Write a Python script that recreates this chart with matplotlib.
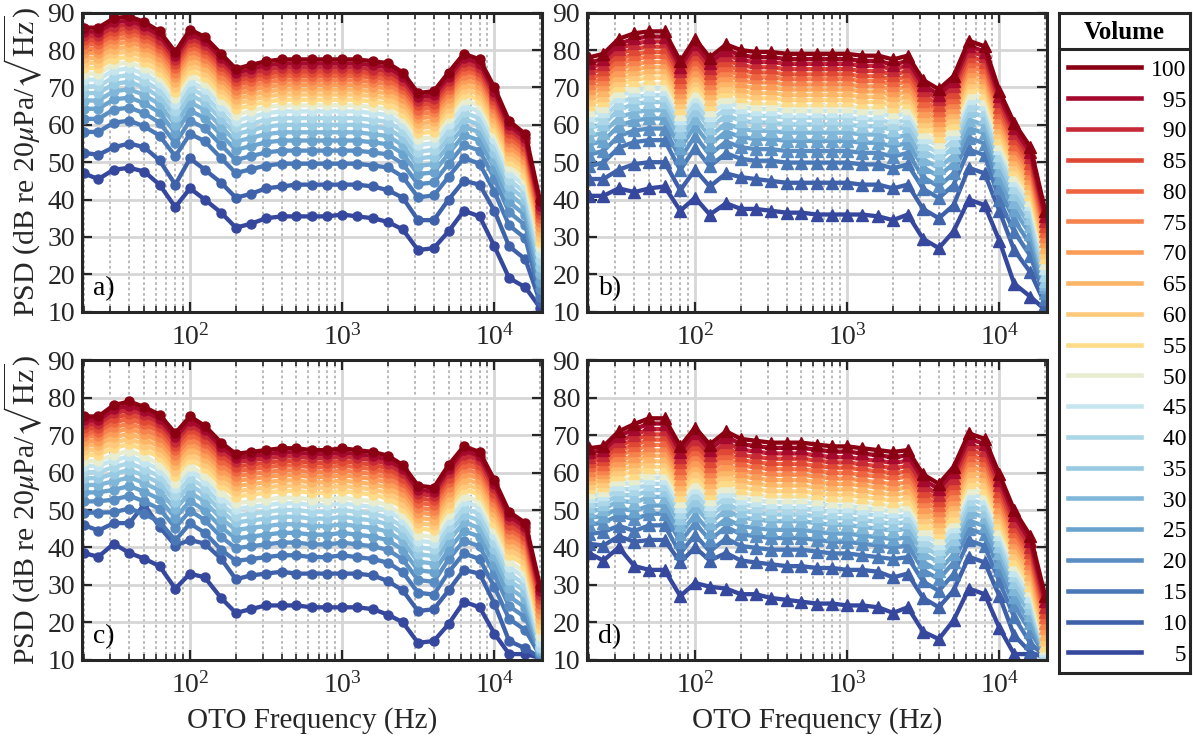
import matplotlib.pyplot as plt
from matplotlib.lines import Line2D
from matplotlib.ticker import NullFormatter

plt.rcParams['font.family'] = ['Liberation Serif', 'DejaVu Serif']
plt.rcParams['mathtext.fontset'] = 'stix'

# one-third octave band centres (Hz)
freq = [20, 25, 31.5, 40, 50, 63, 80, 100, 125, 160, 200, 250, 315, 400, 500, 630,
        800, 1000, 1250, 1600, 2000, 2500, 3150, 4000, 5000, 6300, 8000, 10000,
        12500, 16000, 20000]
volumes = [5, 10, 15, 20, 25, 30, 35, 40, 45, 50, 55, 60, 65, 70, 75, 80, 85, 90, 95, 100]

# PSD (dB), one row per volume (5 -> 100)
psd_a = [
    [47, 45.5, 48, 48.5, 47.5, 44, 38, 43, 40, 36.5, 32.5, 33.5, 35, 35.5, 35.5, 35.5, 35.5, 36, 35.5, 35, 34, 32, 26.5, 27, 31.5, 37, 35.5, 27.5, 19, 16.5, 11],
    [52.5, 52, 54, 55, 54, 50.5, 44, 51, 48, 44.5, 40.5, 41.5, 43, 43.5, 44, 44, 44, 44, 44, 43.5, 42.5, 40.5, 34.5, 34.5, 40, 45, 44, 37, 27.5, 24, 12.5],
    [58.1, 58.1, 60.6, 61.1, 59.6, 57.1, 51.6, 57.6, 55.6, 51.1, 47.1, 48.1, 49.1, 49.6, 49.6, 49.6, 49.6, 49.6, 49.6, 49.1, 48.6, 46.1, 40.6, 41.1, 46.1, 51.1, 49.6, 42.1, 33.1, 29.6, 14],
    [61.6, 61.6, 64.1, 64.6, 63.1, 60.6, 55.1, 61.1, 59.1, 54.6, 50.6, 51.6, 52.6, 53.1, 53.1, 53.1, 53.1, 53.1, 53.1, 52.6, 52.1, 49.6, 44.1, 44.6, 49.6, 54.6, 53.1, 45.6, 36.6, 33.1, 16],
    [64.3, 64.3, 66.8, 67.3, 65.8, 63.3, 57.8, 63.8, 61.8, 57.3, 53.3, 54.3, 55.3, 55.8, 55.8, 55.8, 55.8, 55.8, 55.8, 55.3, 54.8, 52.3, 46.8, 47.3, 52.3, 57.3, 55.8, 48.3, 39.3, 35.8, 18],
    [66.5, 66.5, 69, 69.5, 68, 65.5, 60, 66, 64, 59.5, 55.5, 56.5, 57.5, 58, 58, 58, 58, 58, 58, 57.5, 57, 54.5, 49, 49.5, 54.5, 59.5, 58, 50.5, 41.5, 38, 20],
    [68.5, 68.5, 71, 71.5, 70, 67.5, 62, 68, 66, 61.5, 57.5, 58.5, 59.5, 60, 60, 60, 60, 60, 60, 59.5, 59, 56.5, 51, 51.5, 56.5, 61.5, 60, 52.5, 43.5, 40, 22],
    [70.3, 70.3, 72.8, 73.3, 71.8, 69.3, 63.8, 69.8, 67.8, 63.3, 59.3, 60.3, 61.3, 61.8, 61.8, 61.8, 61.8, 61.8, 61.8, 61.3, 60.8, 58.3, 52.8, 53.3, 58.3, 63.3, 61.8, 54.3, 45.3, 41.8, 23.8],
    [72.1, 72.1, 74.6, 75.1, 73.6, 71.1, 65.6, 71.6, 69.6, 65.1, 61.1, 62.1, 63.1, 63.6, 63.6, 63.6, 63.6, 63.6, 63.6, 63.1, 62.6, 60.1, 54.6, 55.1, 60.1, 65.1, 63.6, 56.1, 47.1, 43.6, 25.6],
    [73.7, 73.7, 76.2, 76.7, 75.2, 72.7, 67.2, 73.2, 71.2, 66.7, 62.7, 63.7, 64.7, 65.2, 65.2, 65.2, 65.2, 65.2, 65.2, 64.7, 64.2, 61.7, 56.2, 56.7, 61.7, 66.7, 65.2, 57.7, 48.7, 45.2, 27.2],
    [75.2, 75.2, 77.7, 78.2, 76.7, 74.2, 68.7, 74.7, 72.7, 68.2, 64.2, 65.2, 66.2, 66.7, 66.7, 66.7, 66.7, 66.7, 66.7, 66.2, 65.7, 63.2, 57.7, 58.2, 63.2, 68.2, 66.7, 59.2, 50.2, 46.7, 28.7],
    [76.6, 76.6, 79.1, 79.6, 78.1, 75.6, 70.1, 76.1, 74.1, 69.6, 65.6, 66.6, 67.6, 68.1, 68.1, 68.1, 68.1, 68.1, 68.1, 67.6, 67.1, 64.6, 59.1, 59.6, 64.6, 69.6, 68.1, 60.6, 51.6, 48.1, 30.1],
    [77.9, 77.9, 80.4, 80.9, 79.4, 76.9, 71.4, 77.4, 75.4, 70.9, 66.9, 67.9, 68.9, 69.4, 69.4, 69.4, 69.4, 69.4, 69.4, 68.9, 68.4, 65.9, 60.4, 60.9, 65.9, 70.9, 69.4, 61.9, 52.9, 49.4, 31.4],
    [79.2, 79.2, 81.7, 82.2, 80.7, 78.2, 72.7, 78.7, 76.7, 72.2, 68.2, 69.2, 70.2, 70.7, 70.7, 70.7, 70.7, 70.7, 70.7, 70.2, 69.7, 67.2, 61.7, 62.2, 67.2, 72.2, 70.7, 63.2, 54.2, 50.7, 32.7],
    [80.4, 80.4, 82.9, 83.4, 81.9, 79.4, 73.9, 79.9, 77.9, 73.4, 69.4, 70.4, 71.4, 71.9, 71.9, 71.9, 71.9, 71.9, 71.9, 71.4, 70.9, 68.4, 62.9, 63.4, 68.4, 73.4, 71.9, 64.4, 55.4, 51.9, 33.9],
    [81.6, 81.6, 84.1, 84.6, 83.1, 80.6, 75.1, 81.1, 79.1, 74.6, 70.6, 71.6, 72.6, 73.1, 73.1, 73.1, 73.1, 73.1, 73.1, 72.6, 72.1, 69.6, 64.1, 64.6, 69.6, 74.6, 73.1, 65.6, 56.6, 53.1, 35.1],
    [82.7, 82.7, 85.2, 85.7, 84.2, 81.7, 76.2, 82.2, 80.2, 75.7, 71.7, 72.7, 73.7, 74.2, 74.2, 74.2, 74.2, 74.2, 74.2, 73.7, 73.2, 70.7, 65.2, 65.7, 70.7, 75.7, 74.2, 66.7, 57.7, 54.2, 36.2],
    [83.8, 83.8, 86.3, 86.8, 85.3, 82.8, 77.3, 83.3, 81.3, 76.8, 72.8, 73.8, 74.8, 75.3, 75.3, 75.3, 75.3, 75.3, 75.3, 74.8, 74.3, 71.8, 66.3, 66.8, 71.8, 76.8, 75.3, 67.8, 58.8, 55.3, 37.3],
    [84.9, 84.9, 87.4, 87.9, 86.4, 83.9, 78.4, 84.4, 82.4, 77.9, 73.9, 74.9, 75.9, 76.4, 76.4, 76.4, 76.4, 76.4, 76.4, 75.9, 75.4, 72.9, 67.4, 67.9, 72.9, 77.9, 76.4, 68.9, 59.9, 56.4, 38.4],
    [86, 86, 88.5, 89, 87.5, 85, 79.5, 85.5, 83.5, 79, 75, 76, 77, 77.5, 77.5, 77.5, 77.5, 77.5, 77.5, 77, 76.5, 74, 68.5, 69, 74, 79, 77.5, 70, 61, 57.5, 39.5],
]

psd_b = [
    [41, 41, 43, 42, 43, 43.5, 37, 40.5, 36, 39, 37.5, 37.5, 37, 36.5, 36.5, 36, 36, 36, 36, 35.5, 34.5, 36, 29.5, 27, 31.5, 40, 38.5, 29, 17.5, 14, 10.5],
    [45.5, 45.5, 48, 49.5, 50, 50, 42.5, 48, 43.5, 47, 46, 45.5, 45, 44.5, 44.5, 44.5, 44.5, 44.5, 44, 44, 43, 44, 37.5, 35, 38.5, 48.5, 47, 37, 26.5, 20.5, 12],
    [48.9, 49.9, 53.9, 55.4, 55.9, 55.9, 47.9, 53.9, 48.9, 52.4, 50.9, 50.4, 50.4, 49.9, 49.9, 49.9, 49.9, 49.9, 49.4, 49.4, 48.4, 49.4, 42.9, 40.4, 43.9, 53.4, 51.9, 39.9, 31.4, 24.9, 13.5],
    [52, 53, 57, 58.5, 59, 59, 51, 57, 52, 55.5, 54, 53.5, 53.5, 53, 53, 53, 53, 53, 52.5, 52.5, 51.5, 52.5, 46, 43.5, 47, 56.5, 55, 43, 34.5, 28, 15],
    [54.7, 55.7, 59.7, 61.2, 61.7, 61.7, 53.7, 59.7, 54.7, 58.2, 56.7, 56.2, 56.2, 55.7, 55.7, 55.7, 55.7, 55.7, 55.2, 55.2, 54.2, 55.2, 48.7, 46.2, 49.7, 59.2, 57.7, 45.7, 37.2, 30.7, 16.5],
    [56.9, 57.9, 61.9, 63.4, 63.9, 63.9, 55.9, 61.9, 56.9, 60.4, 58.9, 58.4, 58.4, 57.9, 57.9, 57.9, 57.9, 57.9, 57.4, 57.4, 56.4, 57.4, 50.9, 48.4, 51.9, 61.4, 59.9, 47.9, 39.4, 32.9, 17.5],
    [59.1, 60.1, 64.1, 65.6, 66.1, 66.1, 58.1, 64.1, 59.1, 62.6, 61.1, 60.6, 60.6, 60.1, 60.1, 60.1, 60.1, 60.1, 59.6, 59.6, 58.6, 59.6, 53.1, 50.6, 54.1, 63.6, 62.1, 50.1, 41.6, 35.1, 18.1],
    [60.9, 61.9, 65.9, 67.4, 67.9, 67.9, 59.9, 65.9, 60.9, 64.4, 62.9, 62.4, 62.4, 61.9, 61.9, 61.9, 61.9, 61.9, 61.4, 61.4, 60.4, 61.4, 54.9, 52.4, 55.9, 65.4, 63.9, 51.9, 43.4, 36.9, 19.9],
    [62.7, 63.7, 67.7, 69.2, 69.7, 69.7, 61.7, 67.7, 62.7, 66.2, 64.7, 64.2, 64.2, 63.7, 63.7, 63.7, 63.7, 63.7, 63.2, 63.2, 62.2, 63.2, 56.7, 54.2, 57.7, 67.2, 65.7, 53.7, 45.2, 38.7, 21.7],
    [64, 65, 69, 70.5, 71, 71, 63, 69, 64, 67.5, 66, 65.5, 65.5, 65, 65, 65, 65, 65, 64.5, 64.5, 63.5, 64.5, 58, 55.5, 59, 68.5, 67, 55, 46.5, 40, 23],
    [65.6, 66.6, 70.6, 72.1, 72.6, 72.6, 64.6, 70.6, 65.6, 69.1, 67.6, 67.1, 67.1, 66.6, 66.6, 66.6, 66.6, 66.6, 66.1, 66.1, 65.1, 66.1, 59.6, 57.1, 60.6, 70.1, 68.6, 56.6, 48.1, 41.6, 24.6],
    [67, 68, 72, 73.5, 74, 74, 66, 72, 67, 70.5, 69, 68.5, 68.5, 68, 68, 68, 68, 68, 67.5, 67.5, 66.5, 67.5, 61, 58.5, 62, 71.5, 70, 58, 49.5, 43, 26],
    [68.4, 69.4, 73.4, 74.9, 75.4, 75.4, 67.4, 73.4, 68.4, 71.9, 70.4, 69.9, 69.9, 69.4, 69.4, 69.4, 69.4, 69.4, 68.9, 68.9, 67.9, 68.9, 62.4, 59.9, 63.4, 72.9, 71.4, 59.4, 50.9, 44.4, 27.4],
    [69.8, 70.8, 74.8, 76.3, 76.8, 76.8, 68.8, 74.8, 69.8, 73.3, 71.8, 71.3, 71.3, 70.8, 70.8, 70.8, 70.8, 70.8, 70.3, 70.3, 69.3, 70.3, 63.8, 61.3, 64.8, 74.3, 72.8, 60.8, 52.3, 45.8, 28.8],
    [71.2, 72.2, 76.2, 77.7, 78.2, 78.2, 70.2, 76.2, 71.2, 74.7, 73.2, 72.7, 72.7, 72.2, 72.2, 72.2, 72.2, 72.2, 71.7, 71.7, 70.7, 71.7, 65.2, 62.7, 66.2, 75.7, 74.2, 62.2, 53.7, 47.2, 30.2],
    [72.5, 73.5, 77.5, 79, 79.5, 79.5, 71.5, 77.5, 72.5, 76, 74.5, 74, 74, 73.5, 73.5, 73.5, 73.5, 73.5, 73, 73, 72, 73, 66.5, 64, 67.5, 77, 75.5, 63.5, 55, 48.5, 31.5],
    [73.9, 74.9, 78.9, 80.4, 80.9, 80.9, 72.9, 78.9, 73.9, 77.4, 75.9, 75.4, 75.4, 74.9, 74.9, 74.9, 74.9, 74.9, 74.4, 74.4, 73.4, 74.4, 67.9, 65.4, 68.9, 78.4, 76.9, 64.9, 56.4, 49.9, 32.9],
    [75.3, 76.3, 80.3, 81.8, 82.3, 82.3, 74.3, 80.3, 75.3, 78.8, 77.3, 76.8, 76.8, 76.3, 76.3, 76.3, 76.3, 76.3, 75.8, 75.8, 74.8, 75.8, 69.3, 66.8, 70.3, 79.8, 78.3, 66.3, 57.8, 51.3, 34.3],
    [76.6, 77.6, 81.6, 83.1, 83.6, 83.6, 75.6, 81.6, 76.6, 80.1, 78.6, 78.1, 78.1, 77.6, 77.6, 77.6, 77.6, 77.6, 77.1, 77.1, 76.1, 77.1, 70.6, 68.1, 71.6, 81.1, 79.6, 67.6, 59.1, 52.6, 35.6],
    [78, 79, 83, 84.5, 85, 85, 77, 83, 78, 81.5, 80, 79.5, 79.5, 79, 79, 79, 79, 79, 78.5, 78.5, 77.5, 78.5, 72, 69.5, 73, 82.5, 81, 69, 60.5, 54, 37],
]

psd_c = [
    [38.5, 37.5, 41, 38.5, 37, 35, 29, 33, 32, 26.5, 22.5, 23.5, 24.5, 24.5, 24.5, 24, 24, 24, 24, 23.5, 22, 20, 14.5, 15, 19.5, 25.5, 24, 17, 11.5, 11.5, 10.5],
    [46, 44.5, 46.5, 46.5, 51.5, 45.5, 40.5, 42, 41, 37, 31.5, 32.5, 33, 33.5, 33, 33, 33, 33, 33, 32.5, 31, 28.5, 23, 23.5, 28.5, 34, 33, 25, 15, 13, 10.5],
    [49.3, 49.3, 49.4, 50.4, 48.9, 46.9, 41.9, 46.4, 43.9, 39.4, 36.4, 36.9, 37.4, 37.9, 37.9, 37.4, 37.4, 37.9, 37.4, 36.9, 35.9, 33.4, 27.9, 27.4, 33.4, 38.4, 36.9, 29.4, 20.9, 17.9, 11],
    [52.3, 52.3, 52.8, 53.8, 52.3, 50.3, 45.3, 49.8, 47.3, 42.8, 39.8, 40.3, 40.8, 41.3, 41.3, 40.8, 40.8, 41.3, 40.8, 40.3, 39.3, 36.8, 31.3, 30.8, 36.8, 41.8, 40.3, 32.8, 24.3, 21.3, 11.5],
    [54.7, 54.7, 55.4, 56.4, 54.9, 52.9, 47.9, 52.4, 49.9, 45.4, 42.4, 42.9, 43.4, 43.9, 43.9, 43.4, 43.4, 43.9, 43.4, 42.9, 41.9, 39.4, 33.9, 33.4, 39.4, 44.4, 42.9, 35.4, 26.9, 23.9, 12],
    [56.7, 56.7, 57.7, 58.7, 57.2, 55.2, 50.2, 54.7, 52.2, 47.7, 44.7, 45.2, 45.7, 46.2, 46.2, 45.7, 45.7, 46.2, 45.7, 45.2, 44.2, 41.7, 36.2, 35.7, 41.7, 46.7, 45.2, 37.7, 29.2, 26.2, 12.5],
    [58.5, 58.5, 59.7, 60.7, 59.2, 57.2, 52.2, 56.7, 54.2, 49.7, 46.7, 47.2, 47.7, 48.2, 48.2, 47.7, 47.7, 48.2, 47.7, 47.2, 46.2, 43.7, 38.2, 37.7, 43.7, 48.7, 47.2, 39.7, 31.2, 28.2, 13],
    [60.1, 60.1, 61.5, 62.5, 61, 59, 54, 58.5, 56, 51.5, 48.5, 49, 49.5, 50, 50, 49.5, 49.5, 50, 49.5, 49, 48, 45.5, 40, 39.5, 45.5, 50.5, 49, 41.5, 33, 30, 13.5],
    [61.8, 61.8, 63.3, 64.3, 62.8, 60.8, 55.8, 60.3, 57.8, 53.3, 50.3, 50.8, 51.3, 51.8, 51.8, 51.3, 51.3, 51.8, 51.3, 50.8, 49.8, 47.3, 41.8, 41.3, 47.3, 52.3, 50.8, 43.3, 34.8, 31.8, 14.8],
    [63.1, 63.1, 64.8, 65.8, 64.3, 62.3, 57.3, 61.8, 59.3, 54.8, 51.8, 52.3, 52.8, 53.3, 53.3, 52.8, 52.8, 53.3, 52.8, 52.3, 51.3, 48.8, 43.3, 42.8, 48.8, 53.8, 52.3, 44.8, 36.3, 33.3, 16.3],
    [64.7, 64.7, 66.6, 67.6, 66.1, 64.1, 59.1, 63.6, 61.1, 56.6, 53.6, 54.1, 54.6, 55.1, 55.1, 54.6, 54.6, 55.1, 54.6, 54.1, 53.1, 50.6, 45.1, 44.6, 50.6, 55.6, 54.1, 46.6, 38.1, 35.1, 18.1],
    [66, 66, 68, 69, 67.5, 65.5, 60.5, 65, 62.5, 58, 55, 55.5, 56, 56.5, 56.5, 56, 56, 56.5, 56, 55.5, 54.5, 52, 46.5, 46, 52, 57, 55.5, 48, 39.5, 36.5, 19.5],
    [67.3, 67.3, 69.4, 70.4, 68.9, 66.9, 61.9, 66.4, 63.9, 59.4, 56.4, 56.9, 57.4, 57.9, 57.9, 57.4, 57.4, 57.9, 57.4, 56.9, 55.9, 53.4, 47.9, 47.4, 53.4, 58.4, 56.9, 49.4, 40.9, 37.9, 20.9],
    [68.5, 68.5, 70.8, 71.8, 70.3, 68.3, 63.3, 67.8, 65.3, 60.8, 57.8, 58.3, 58.8, 59.3, 59.3, 58.8, 58.8, 59.3, 58.8, 58.3, 57.3, 54.8, 49.3, 48.8, 54.8, 59.8, 58.3, 50.8, 42.3, 39.3, 22.3],
    [69.7, 69.7, 72.1, 73.1, 71.6, 69.6, 64.6, 69.1, 66.6, 62.1, 59.1, 59.6, 60.1, 60.6, 60.6, 60.1, 60.1, 60.6, 60.1, 59.6, 58.6, 56.1, 50.6, 50.1, 56.1, 61.1, 59.6, 52.1, 43.6, 40.6, 23.6],
    [70.9, 70.9, 73.4, 74.4, 72.9, 70.9, 65.9, 70.4, 67.9, 63.4, 60.4, 60.9, 61.4, 61.9, 61.9, 61.4, 61.4, 61.9, 61.4, 60.9, 59.9, 57.4, 51.9, 51.4, 57.4, 62.4, 60.9, 53.4, 44.9, 41.9, 24.9],
    [71.9, 71.9, 74.6, 75.6, 74.1, 72.1, 67.1, 71.6, 69.1, 64.6, 61.6, 62.1, 62.6, 63.1, 63.1, 62.6, 62.6, 63.1, 62.6, 62.1, 61.1, 58.6, 53.1, 52.6, 58.6, 63.6, 62.1, 54.6, 46.1, 43.1, 26.1],
    [73, 73, 75.8, 76.8, 75.3, 73.3, 68.3, 72.8, 70.3, 65.8, 62.8, 63.3, 63.8, 64.3, 64.3, 63.8, 63.8, 64.3, 63.8, 63.3, 62.3, 59.8, 54.3, 53.8, 59.8, 64.8, 63.3, 55.8, 47.3, 44.3, 27.3],
    [74, 74, 76.9, 77.9, 76.4, 74.4, 69.4, 73.9, 71.4, 66.9, 63.9, 64.4, 64.9, 65.4, 65.4, 64.9, 64.9, 65.4, 64.9, 64.4, 63.4, 60.9, 55.4, 54.9, 60.9, 65.9, 64.4, 56.9, 48.4, 45.4, 28.4],
    [75, 75, 78, 79, 77.5, 75.5, 70.5, 75, 72.5, 68, 65, 65.5, 66, 66.5, 66.5, 66, 66, 66.5, 66, 65.5, 64.5, 62, 56.5, 56, 62, 67, 65.5, 58, 49.5, 46.5, 29.5],
]

psd_d = [
    [38.5, 36.5, 40, 35, 34, 34, 27, 30.5, 29.5, 29, 27.5, 27.5, 26.5, 26, 25.5, 25, 25, 24.5, 24.5, 24, 22.5, 24, 17.5, 15.5, 20.5, 29, 27.5, 18.5, 11.5, 11.5, 11],
    [41, 40.5, 43, 41.5, 42, 42, 36, 40, 36.5, 38.5, 36.5, 36, 35.5, 35, 35, 34.5, 34.5, 34, 34, 33.5, 32, 33, 26.5, 24, 28.5, 37.5, 36, 27, 16.5, 12, 10.5],
    [43.6, 44.1, 45.8, 44.4, 45.9, 45.9, 38.4, 43.4, 38.9, 42.4, 40.4, 39.9, 39.4, 39.4, 39.4, 38.9, 38.4, 38.4, 37.9, 37.4, 36.9, 37.4, 30.9, 28.4, 32.9, 41.9, 40.4, 30.9, 21.4, 14.4, 10.8],
    [46.1, 46.6, 48.6, 47.5, 49, 49, 41.5, 46.5, 42, 45.5, 43.5, 43, 42.5, 42.5, 42.5, 42, 41.5, 41.5, 41, 40.5, 40, 40.5, 34, 31.5, 36, 45, 43.5, 34, 24.5, 17.5, 11],
    [47.9, 48.4, 50.5, 49.7, 51.2, 51.2, 43.7, 48.7, 44.2, 47.7, 45.7, 45.2, 44.7, 44.7, 44.7, 44.2, 43.7, 43.7, 43.2, 42.7, 42.2, 42.7, 36.2, 33.7, 38.2, 47.2, 45.7, 36.2, 26.7, 19.7, 11.2],
    [49.7, 50.2, 52.5, 52, 53.5, 53.5, 46, 51, 46.5, 50, 48, 47.5, 47, 47, 47, 46.5, 46, 46, 45.5, 45, 44.5, 45, 38.5, 36, 40.5, 49.5, 48, 38.5, 29, 22, 11.5],
    [51.1, 51.6, 54.1, 53.8, 55.3, 55.3, 47.8, 52.8, 48.3, 51.8, 49.8, 49.3, 48.8, 48.8, 48.8, 48.3, 47.8, 47.8, 47.3, 46.8, 46.3, 46.8, 40.3, 37.8, 42.3, 51.3, 49.8, 40.3, 30.8, 23.8, 11.8],
    [52.5, 53, 55.6, 55.5, 57, 57, 49.5, 54.5, 50, 53.5, 51.5, 51, 50.5, 50.5, 50.5, 50, 49.5, 49.5, 49, 48.5, 48, 48.5, 42, 39.5, 44, 53, 51.5, 42, 32.5, 25.5, 12],
    [53.8, 54.3, 57, 57.1, 58.6, 58.6, 51.1, 56.1, 51.6, 55.1, 53.1, 52.6, 52.1, 52.1, 52.1, 51.6, 51.1, 51.1, 50.6, 50.1, 49.6, 50.1, 43.6, 41.1, 45.6, 54.6, 53.1, 43.6, 34.1, 27.1, 12.5],
    [54.9, 55.4, 58.2, 58.5, 60, 60, 52.5, 57.5, 53, 56.5, 54.5, 54, 53.5, 53.5, 53.5, 53, 52.5, 52.5, 52, 51.5, 51, 51.5, 45, 42.5, 47, 56, 54.5, 45, 35.5, 28.5, 13],
    [56.1, 56.6, 59.6, 60, 61.5, 61.5, 54, 59, 54.5, 58, 56, 55.5, 55, 55, 55, 54.5, 54, 54, 53.5, 53, 52.5, 53, 46.5, 44, 48.5, 57.5, 56, 46.5, 37, 30, 14],
    [57.3, 57.8, 60.9, 61.5, 63, 63, 55.5, 60.5, 56, 59.5, 57.5, 57, 56.5, 56.5, 56.5, 56, 55.5, 55.5, 55, 54.5, 54, 54.5, 48, 45.5, 50, 59, 57.5, 48, 38.5, 31.5, 15.5],
    [58.5, 59, 62.2, 63, 64.5, 64.5, 57, 62, 57.5, 61, 59, 58.5, 58, 58, 58, 57.5, 57, 57, 56.5, 56, 55.5, 56, 49.5, 47, 51.5, 60.5, 59, 49.5, 40, 33, 17],
    [59.6, 60.1, 63.4, 64.4, 65.9, 65.9, 58.4, 63.4, 58.9, 62.4, 60.4, 59.9, 59.4, 59.4, 59.4, 58.9, 58.4, 58.4, 57.9, 57.4, 56.9, 57.4, 50.9, 48.4, 52.9, 61.9, 60.4, 50.9, 41.4, 34.4, 18.4],
    [60.8, 61.3, 64.8, 65.9, 67.4, 67.4, 59.9, 64.9, 60.4, 63.9, 61.9, 61.4, 60.9, 60.9, 60.9, 60.4, 59.9, 59.9, 59.4, 58.9, 58.4, 58.9, 52.4, 49.9, 54.4, 63.4, 61.9, 52.4, 42.9, 35.9, 19.9],
    [61.9, 62.4, 66, 67.3, 68.8, 68.8, 61.3, 66.3, 61.8, 65.3, 63.3, 62.8, 62.3, 62.3, 62.3, 61.8, 61.3, 61.3, 60.8, 60.3, 59.8, 60.3, 53.8, 51.3, 55.8, 64.8, 63.3, 53.8, 44.3, 37.3, 21.3],
    [63.1, 63.6, 67.2, 68.7, 70.2, 70.2, 62.7, 67.7, 63.2, 66.7, 64.7, 64.2, 63.7, 63.7, 63.7, 63.2, 62.7, 62.7, 62.2, 61.7, 61.2, 61.7, 55.2, 52.7, 57.2, 66.2, 64.7, 55.2, 45.7, 38.7, 22.7],
    [64.2, 64.7, 68.4, 70.1, 71.6, 71.6, 64.1, 69.1, 64.6, 68.1, 66.1, 65.6, 65.1, 65.1, 65.1, 64.6, 64.1, 64.1, 63.6, 63.1, 62.6, 63.1, 56.6, 54.1, 58.6, 67.6, 66.1, 56.6, 47.1, 40.1, 24.1],
    [65.4, 65.9, 69.8, 71.6, 73.1, 73.1, 65.6, 70.6, 66.1, 69.6, 67.6, 67.1, 66.6, 66.6, 66.6, 66.1, 65.6, 65.6, 65.1, 64.6, 64.1, 64.6, 58.1, 55.6, 60.1, 69.1, 67.6, 58.1, 48.6, 41.6, 25.6],
    [66.5, 67, 71, 73, 74.5, 74.5, 67, 72, 67.5, 71, 69, 68.5, 68, 68, 68, 67.5, 67, 67, 66.5, 66, 65.5, 66, 59.5, 57, 61.5, 70.5, 69, 59.5, 50, 43, 27],
]

# colours for volume 5 -> 100
colors = ['#36489d', '#3f61aa', '#4a78b7', '#5a8ec3', '#6aa3ce', '#80b6d8', '#98cbe3',
          '#acd7e8', '#c6e6ef', '#e8edcf', '#fedb88', '#fec97a', '#fdb567', '#fb9d59',
          '#f6824d', '#ee6441', '#de4834', '#c62a37', '#a50a2e', '#8a0012']

fig = plt.figure(figsize=(11.93, 7.48), dpi=100)

W, H = 1193.0, 748.0
panels = [
    ('a)', psd_a, 'o', 6.5, [82 / W, (H - 311.7) / H, 459.5 / W, 299 / H]),
    ('b)', psd_b, '^', 8, [587 / W, (H - 311.7) / H, 459.5 / W, 299 / H]),
    ('c)', psd_c, 'o', 6.5, [82 / W, (H - 659.7) / H, 459.5 / W, 299.4 / H]),
    ('d)', psd_d, '^', 8, [587 / W, (H - 659.7) / H, 459.5 / W, 299.4 / H]),
]

ink = '#262626'
for k, (letter, rows, mk, ms, rect) in enumerate(panels):
    ax = fig.add_axes(rect)
    for vol, row, col in zip(volumes, rows, colors):
        ax.plot(freq, row, color=col, lw=3.1, marker=mk, ms=ms, mfc=col, mec=col)
    ax.set_xscale('log')
    ax.set_xlim(19.5, 20400)
    ax.set_ylim(10, 90)
    ax.set_yticks(range(10, 91, 10))
    ax.xaxis.set_minor_formatter(NullFormatter())
    ax.set_axisbelow(True)
    ax.grid(which='major', color='#d6d6d6', lw=2.0, ls='-')
    ax.grid(which='minor', axis='x', color='#b4b4b4', lw=1.3, ls=(0, (1.5, 1.5)))
    ax.tick_params(which='both', direction='in', top=True, right=True,
                   colors=ink, labelsize=20)
    ax.tick_params(which='major', length=7, width=1.6)
    ax.tick_params(which='minor', length=4, width=1.2)
    ax.tick_params(axis='x', pad=9)
    ax.tick_params(axis='y', pad=5)
    for s in ax.spines.values():
        s.set_linewidth(2.2)
        s.set_color(ink)
    ax.text(0.025, 0.035, letter, transform=ax.transAxes, fontsize=20,
            ha='left', va='bottom', color='black')
    if k in (0, 2):
        ax.set_ylabel('PSD (dB re 20$\\mu$Pa/$\\sqrt{\\mathrm{Hz}}$)', fontsize=21.5,
                      color=ink, labelpad=2)
    if k in (2, 3):
        ax.set_xlabel('OTO Frequency (Hz)', fontsize=21, color=ink, labelpad=6)

# legend panel
lax = fig.add_axes([1059 / W, (H - 673) / H, 131 / W, 660 / H])
lax.set_xticks([])
lax.set_yticks([])
for s in lax.spines.values():
    s.set_linewidth(2.2)
    s.set_color(ink)
lax.text(0.5, 0.9697, 'Volume', ha='center', va='center', fontweight='bold',
         fontsize=18, transform=lax.transAxes)
lax.axhline(0.9455, color=ink, lw=2.2)
handles = [Line2D([], [], color=c, lw=3.3) for c in reversed(colors)]
labels = [f'{v:>3}'.replace(' ', '\u2007') for v in reversed(volumes)]
lax.legend(handles, labels, loc='upper left', bbox_to_anchor=(0.068, 0.93),
           frameon=False, fontsize=17, handlelength=3.1, handletextpad=0.4,
           labelspacing=0.392, borderpad=0, borderaxespad=0)

fig.savefig('out.png', dpi=100)
